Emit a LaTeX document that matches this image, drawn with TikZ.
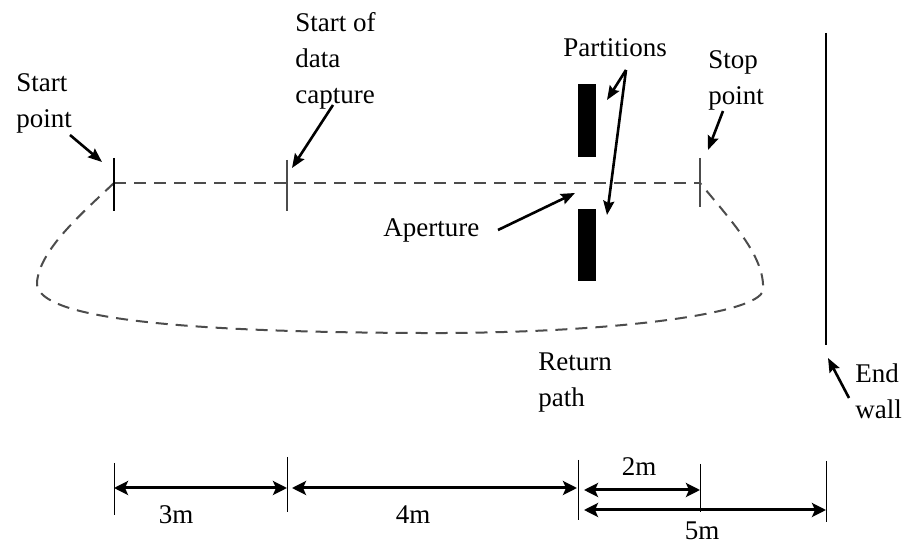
\documentclass[tikz,border=0pt]{standalone}
\usepackage{fontspec}
\setmainfont{Liberation Serif}
\usetikzlibrary{arrows.meta}
\tikzset{>={Stealth[length=7pt,width=5.5pt,inset=1pt]}}
\colorlet{background}{white}
\colorlet{penColor}{black}
\colorlet{pathColor}{black!70}
\tikzset{txt/.style={align=left,anchor=north west,inner sep=0pt,font=\fontsize{13.5}{18}\selectfont}}
\tikzset{pointer/.style={->,line width=1.3pt,penColor}}
\tikzset{dimarrow/.style={<->,line width=1.5pt,>={Stealth[length=7pt,width=7pt,inset=1.5pt]}}}
\tikzset{track/.style={pathColor,line width=1pt,dash pattern=on 6pt off 4pt}}

\begin{document}
\begin{tikzpicture}[x=0.5pt,y=-0.5pt]
        \useasboundingbox[fill=background] (0,0) rectangle (906,544);
        % track points
         \coordinate (S) at (114,183);
        \coordinate (C) at (287,183);
        \coordinate (P) at (700,183);
        \coordinate (W1) at (826,33);
        \coordinate (W2) at (826,345);

        \draw[track] (S) -- (P);
        \draw[track] (S) .. controls (80,215) and (40,250) .. (37,282)
             .. controls (34,315) and (150,332) .. (420,333)
             .. controls (600,334) and (760,315) .. (763,290)
             .. controls (765,258) and (735,225) .. (P);
          \draw[penColor, line width=0.8pt] (114,158) -- (114,211);
           \draw[pathColor, line width=0.8pt] (287,160) -- (287,211);
           \draw[pathColor, line width=0.8pt] (700,158) -- (700,207);

        % partitions and wall
        \fill[penColor] (578,84) rectangle (596,157);
        \fill[penColor] (578,209) rectangle (596,281);
        \draw[penColor, line width=1.2pt] (W1) -- (W2);

        \node [txt] (startlbl) at (16,73) {Start\\point};
        \node [txt] (capturelbl) at (295,12) {Start of\\data\\capture};
        \node [txt] (partlbl) at (563,38) {Partitions};
        \node [txt] (stoplbl) at (708,50) {Stop\\point};
        \node [txt] (aperlbl) at (383,218) {Aperture};
        \node [txt] (returnlbl) at (538,352) {Return\\path};
        \node [txt] (walllbl) at (855,363) {End\\wall};

        % pointers
        \coordinate (s1) at (70,135);   \coordinate (s2) at (102,162);
        \coordinate (c1) at (333,105);  \coordinate (c2) at (292,168);
        \coordinate (p0) at (626,70);   \coordinate (p1) at (607,100);
        \coordinate (p2) at (607,215);
        \coordinate (t1) at (723,111);  \coordinate (t2) at (708,150);
        \coordinate (a1) at (498,230);  \coordinate (a2) at (575,193);
        \coordinate (e1) at (849,398);  \coordinate (e2) at (828,358);
        \draw[pointer] (s1) -- (s2);
        \draw[pointer] (c1) -- (c2);
        \draw[pointer] (p0) -- (p1);
        \draw[pointer] (p0) -- (p2);
        \draw[pointer] (t1) -- (t2);
        \draw[pointer] (a1) -- (a2);
        \draw[pointer] (e1) -- (e2);

        % dimensions
        \coordinate (d1) at (114,488);
        \coordinate (d2) at (287,488);
        \coordinate (d2b) at (292,488);
        \coordinate (d3) at (577,488);
        \coordinate (d3a) at (584,490);
        \coordinate (d4) at (700,490);
        \coordinate (d3b) at (584,510);
        \coordinate (d5) at (826,510);
        \draw[thin] (114,463) -- (114,515);
        \draw[thin] (287,457) -- (287,512);
        \draw[thin] (578,460) -- (578,520);
        \draw[thin] (700,464) -- (700,512);
        \draw[thin] (826,461) -- (826,522);
        \draw[dimarrow] (d1) -- (d2);
        \draw[dimarrow] (d2b) -- (d3);
        \draw[dimarrow] (d3a) -- (d4);
        \draw[dimarrow] (d3b) -- (d5);
        %\node at (d1) {};
        \node [font=\fontsize{13.5}{18}\selectfont] (three) at (176,515) {3m};
        \node [font=\fontsize{13.5}{18}\selectfont] (four) at (413,515) {4m};
        \node [font=\fontsize{13.5}{18}\selectfont] (two) at (639,467) {2m};
        \node [font=\fontsize{13.5}{18}\selectfont] (five) at (702,531) {5m};
\end{tikzpicture}
\end{document}
